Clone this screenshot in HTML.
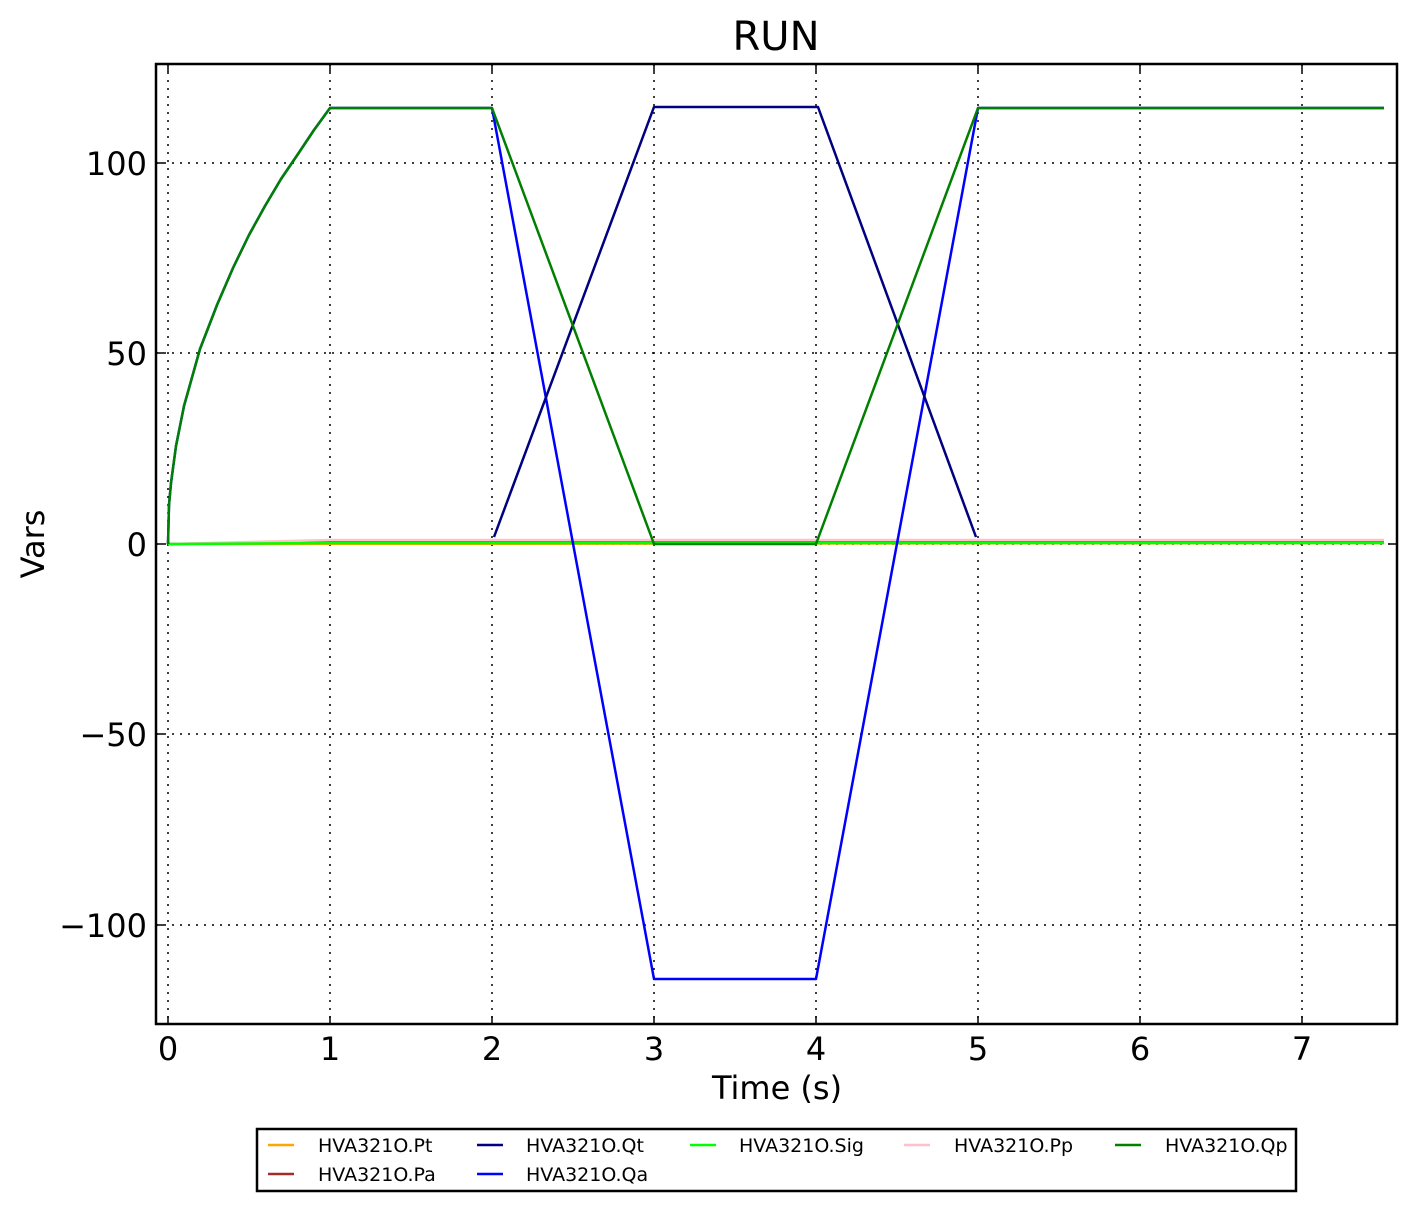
<!DOCTYPE html>
<html><head><style>body{margin:0;background:#fff}svg{display:block}text{font-family:"DejaVu Sans","Liberation Sans",sans-serif}</style></head>
<body>
<svg width="1416" height="1211" viewBox="0 0 1416 1211" xmlns="http://www.w3.org/2000/svg">
<rect width="1416" height="1211" fill="#fff"/>
<text x="776" y="50" font-size="40" text-anchor="middle">RUN</text>
<g stroke="#000" stroke-width="1.5" stroke-dasharray="2,6">
<line x1="168" y1="64" x2="168" y2="1024"/><line x1="330" y1="64" x2="330" y2="1024"/><line x1="492" y1="64" x2="492" y2="1024"/><line x1="654" y1="64" x2="654" y2="1024"/><line x1="816" y1="64" x2="816" y2="1024"/><line x1="978" y1="64" x2="978" y2="1024"/><line x1="1140" y1="64" x2="1140" y2="1024"/><line x1="1302" y1="64" x2="1302" y2="1024"/>
<line x1="156" y1="163" x2="1397" y2="163"/><line x1="156" y1="353" x2="1397" y2="353"/><line x1="156" y1="544" x2="1397" y2="544"/><line x1="156" y1="734" x2="1397" y2="734"/><line x1="156" y1="925" x2="1397" y2="925"/>
</g>
<g fill="none" stroke-width="2.5" stroke-linejoin="round">
<polyline stroke="orange" points="168,544 1384,543"/>
<polyline stroke="#a52a2a" points="168,544 330,542 1384,542"/>
<polyline stroke="pink" points="168,544 330,540 1384,540"/>
<polyline stroke="#00ff00" points="168,544 330,543 1384,543"/>
<polyline stroke="#0000ff" points="168,544 169,505 171,483 176,446 184,406 200,349 217,305 233,268 249,235 265,206 281,179 298,154 314,130 330,108 492,108 654,979 816,979 978,108 1384,108"/>
<polyline stroke="#000080" points="494,537 654,107 818,107 976,537"/>
<polyline stroke="#008000" points="168,544 169,505 171,483 176,446 184,406 200,349 217,305 233,268 249,235 265,206 281,179 298,154 314,130 330,108 492,108 654,544 816,544 978,108 1384,108"/>
</g>
<g stroke="#000" stroke-width="1.5">
<line x1="168" y1="1024" x2="168" y2="1016"/><line x1="330" y1="1024" x2="330" y2="1016"/><line x1="492" y1="1024" x2="492" y2="1016"/><line x1="654" y1="1024" x2="654" y2="1016"/><line x1="816" y1="1024" x2="816" y2="1016"/><line x1="978" y1="1024" x2="978" y2="1016"/><line x1="1140" y1="1024" x2="1140" y2="1016"/><line x1="1302" y1="1024" x2="1302" y2="1016"/>
<line x1="168" y1="64" x2="168" y2="72"/><line x1="330" y1="64" x2="330" y2="72"/><line x1="492" y1="64" x2="492" y2="72"/><line x1="654" y1="64" x2="654" y2="72"/><line x1="816" y1="64" x2="816" y2="72"/><line x1="978" y1="64" x2="978" y2="72"/><line x1="1140" y1="64" x2="1140" y2="72"/><line x1="1302" y1="64" x2="1302" y2="72"/>
<line x1="156" y1="163" x2="164" y2="163"/><line x1="156" y1="353" x2="164" y2="353"/><line x1="156" y1="544" x2="164" y2="544"/><line x1="156" y1="734" x2="164" y2="734"/><line x1="156" y1="925" x2="164" y2="925"/>
<line x1="1397" y1="163" x2="1389" y2="163"/><line x1="1397" y1="353" x2="1389" y2="353"/><line x1="1397" y1="544" x2="1389" y2="544"/><line x1="1397" y1="734" x2="1389" y2="734"/><line x1="1397" y1="925" x2="1389" y2="925"/>
</g>
<rect x="156" y="64" width="1241" height="960" fill="none" stroke="#000" stroke-width="2.5"/>
<g font-size="32" text-anchor="middle">
<text x="168" y="1060">0</text><text x="330" y="1060">1</text><text x="492" y="1060">2</text><text x="654" y="1060">3</text><text x="816" y="1060">4</text><text x="978" y="1060">5</text><text x="1140" y="1060">6</text><text x="1302" y="1060">7</text>
</g>
<g font-size="32" text-anchor="end">
<text x="147" y="175">100</text><text x="147" y="365">50</text><text x="147" y="556">0</text><text x="147" y="746">−50</text><text x="147" y="937">−100</text>
</g>
<text x="777" y="1099" font-size="32" text-anchor="middle">Time (s)</text>
<text transform="translate(44,544) rotate(-90)" font-size="32" text-anchor="middle">Vars</text>
<rect x="257" y="1129" width="1039" height="62" fill="#fff" stroke="#000" stroke-width="2.5"/>
<g stroke-width="2.5">
<line x1="268" y1="1145" x2="294" y2="1145" stroke="orange"/>
<line x1="268" y1="1174" x2="294" y2="1174" stroke="#a52a2a"/>
<line x1="477" y1="1145" x2="503" y2="1145" stroke="#000080"/>
<line x1="477" y1="1174" x2="503" y2="1174" stroke="#0000ff"/>
<line x1="690" y1="1145" x2="716" y2="1145" stroke="#00ff00"/>
<line x1="904" y1="1145" x2="930" y2="1145" stroke="pink"/>
<line x1="1115" y1="1145" x2="1141" y2="1145" stroke="#008000"/>
</g>
<g font-size="19">
<text x="318" y="1152">HVA321O.Pt</text><text x="318" y="1181">HVA321O.Pa</text>
<text x="526" y="1152">HVA321O.Qt</text><text x="526" y="1181">HVA321O.Qa</text>
<text x="739" y="1152">HVA321O.Sig</text>
<text x="954" y="1152">HVA321O.Pp</text>
<text x="1165" y="1152">HVA321O.Qp</text>
</g>
</svg>
</body></html>
